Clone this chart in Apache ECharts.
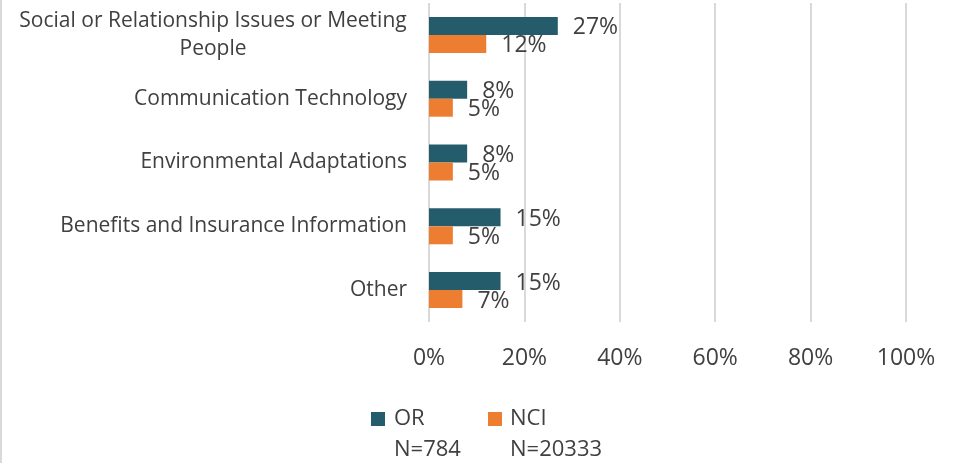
<!DOCTYPE html>
<html>
<head>
<meta charset="utf-8">
<script src="https://cdn.jsdelivr.net/npm/echarts@6/dist/echarts.min.js"></script>
<style>
  html, body { margin: 0; padding: 0; background: #fff; }
  #chart { width: 956px; height: 463px; border-left: 2px solid #d9d9d9; }
</style>
</head>
<body>
<div id="chart"></div>
<script>
// Service categories, top to bottom
const categories = [
  'Social or Relationship Issues or Meeting\nPeople',
  'Communication Technology',
  'Environmental Adaptations',
  'Benefits and Insurance Information',
  'Other'
];
// Percent of respondents per group
const orValues = [27, 8, 8, 15, 15];
const nciValues = [12, 5, 5, 5, 7];
const seriesNames = ['OR', 'NCI'];
const sampleSizes = ['N=784', 'N=20333'];
const xTicks = [0, 20, 40, 60, 80, 100];

const FONT = 'Open Sans';
const TEXT = '#404040';
const CAT_SIZE = 21;
const COLORS = ['#245C6B', '#ED7D31'];

// width of the longest line of a multi-line label, used to center its lines
function lineWidth(str, size) {
  const ctx = document.createElement('canvas').getContext('2d');
  ctx.font = size + 'px "' + FONT + '"';
  return Math.ceil(Math.max.apply(null, str.split('\n').map(s => ctx.measureText(s).width)));
}

// one legend entry per column; the second row repeats the column with a hidden swatch
const columnLeft = [369, 486];
const columnPad = [4, 3];
const legends = [];
seriesNames.forEach((name, i) => {
  legends.push({
    data: [name],
    left: columnLeft[i],
    top: 408,
    padding: 0,
    icon: 'rect',
    itemWidth: 14,
    itemHeight: 14,
    textStyle: { fontSize: 22, color: TEXT, fontFamily: FONT, padding: [0, 0, 0, columnPad[i]] }
  });
  legends.push({
    data: [name],
    left: columnLeft[i],
    top: 439,
    padding: 0,
    icon: 'rect',
    itemWidth: 14,
    itemHeight: 14,
    itemStyle: { color: 'rgba(0,0,0,0)', borderWidth: 0 },
    selectedMode: false,
    formatter: () => sampleSizes[i],
    textStyle: { fontSize: 22, color: TEXT, fontFamily: FONT, padding: [0, 0, 0, columnPad[i]] }
  });
});

const chart = echarts.init(document.getElementById('chart'));
chart.setOption({
  animation: false,
  textStyle: { fontFamily: FONT, color: TEXT },
  grid: { left: 427, right: 52, top: 3, bottom: 141, containLabel: false },
  xAxis: {
    type: 'value',
    min: xTicks[0],
    max: xTicks[xTicks.length - 1],
    interval: xTicks[1] - xTicks[0],
    axisLine: { show: false },
    axisTick: { show: false },
    splitLine: { lineStyle: { color: '#d9d9d9', width: 2 } },
    axisLabel: { formatter: v => v + '%', fontSize: 23, color: TEXT, margin: 25, fontFamily: FONT }
  },
  yAxis: {
    type: 'category',
    inverse: true,
    data: categories,
    axisLine: { show: false },
    axisTick: { show: false },
    axisLabel: {
      margin: 22,
      fontSize: CAT_SIZE,
      color: TEXT,
      fontFamily: FONT,
      lineHeight: 28,
      formatter: function (v) {
        if (v.indexOf('\n') < 0) return v;
        return v.split('\n').map(l => '{c|' + l + '}').join('\n');
      },
      rich: {
        c: {
          width: lineWidth(categories[0], CAT_SIZE),
          align: 'center',
          fontSize: CAT_SIZE,
          color: TEXT,
          fontFamily: FONT,
          lineHeight: 28
        }
      }
    }
  },
  legend: legends,
  series: [
    {
      name: seriesNames[0],
      type: 'bar',
      data: orValues,
      barWidth: 18,
      barGap: '0%',
      itemStyle: { color: COLORS[0] },
      label: { show: true, position: 'right', distance: 15, offset: [0, 2], formatter: '{c}%', fontSize: 23, color: TEXT, fontFamily: FONT }
    },
    {
      name: seriesNames[1],
      type: 'bar',
      data: nciValues,
      barWidth: 18,
      barGap: '0%',
      itemStyle: { color: COLORS[1] },
      label: { show: true, position: 'right', distance: 15, offset: [0, 2], formatter: '{c}%', fontSize: 23, color: TEXT, fontFamily: FONT }
    }
  ]
});
</script>
</body>
</html>
